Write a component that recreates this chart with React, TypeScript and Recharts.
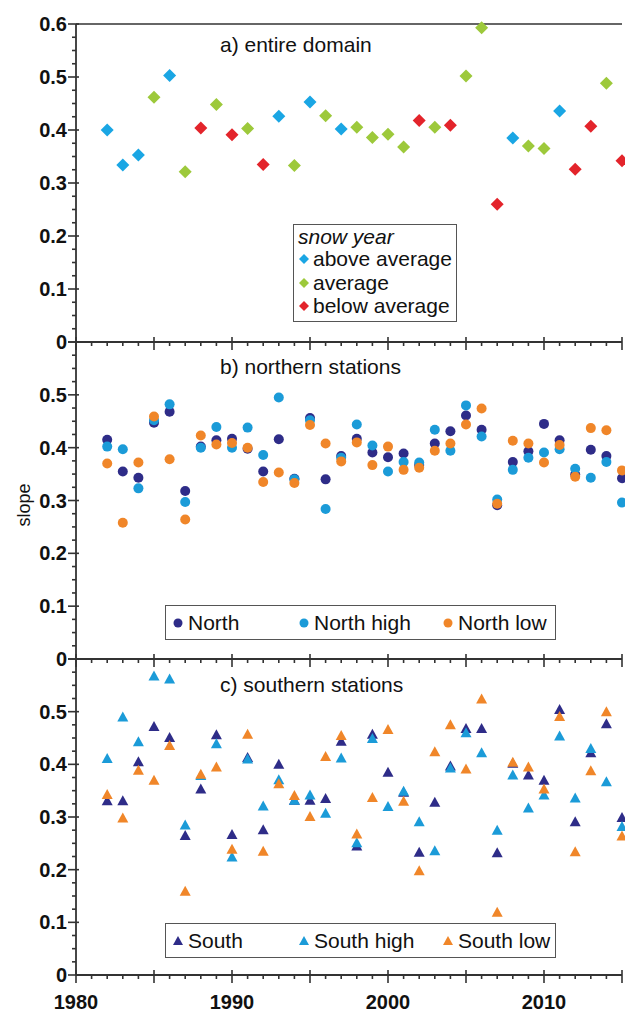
import React from 'react';
import { ScatterChart, Scatter, XAxis, YAxis, ReferenceLine } from 'recharts';

// years 1982-2015
const years = [
  1982, 1983, 1984, 1985, 1986, 1987, 1988, 1989, 1990, 1991, 1992, 1993, 1994, 1995, 1996, 1997, 1998,
  1999, 2000, 2001, 2002, 2003, 2004, 2005, 2006, 2007, 2008, 2009, 2010, 2011, 2012, 2013, 2014, 2015,
];

// a) entire domain, one value per year + snow-year class
const snowYear = [
  'above', 'above', 'above', 'average', 'above', 'average', 'below', 'average', 'below', 'average', 'below',
  'above', 'average', 'above', 'average', 'above', 'average', 'average', 'average', 'average', 'below',
  'average', 'below', 'average', 'average', 'below', 'above', 'average', 'average', 'above', 'below',
  'below', 'average', 'below',
];
const entireDomain = [
  0.4, 0.334, 0.353, 0.462, 0.503, 0.321, 0.404, 0.448, 0.391, 0.403, 0.335, 0.426, 0.333, 0.453, 0.427,
  0.402, 0.405, 0.386, 0.392, 0.368, 0.418, 0.405, 0.409, 0.502, 0.593, 0.26, 0.385, 0.37, 0.365, 0.436,
  0.326, 0.407, 0.488, 0.342,
];

// b) northern stations
const north = [
  0.415, 0.355, 0.343, 0.447, 0.468, 0.318, 0.402, 0.414, 0.417, 0.398, 0.355, 0.416, 0.341, 0.456, 0.34,
  0.384, 0.417, 0.391, 0.382, 0.389, 0.367, 0.408, 0.431, 0.461, 0.434, 0.291, 0.373, 0.393, 0.445, 0.414,
  0.349, 0.396, 0.384, 0.342,
];
const northHigh = [
  0.402, 0.397, 0.323, 0.452, 0.482, 0.297, 0.4, 0.439, 0.4, 0.438, 0.386, 0.495, 0.34, 0.452, 0.284,
  0.381, 0.444, 0.404, 0.355, 0.373, 0.372, 0.434, 0.394, 0.48, 0.421, 0.302, 0.358, 0.381, 0.391, 0.397,
  0.36, 0.343, 0.373, 0.296,
];
const northLow = [
  0.37, 0.258, 0.372, 0.459, 0.378, 0.264, 0.423, 0.406, 0.409, 0.4, 0.335, 0.353, 0.333, 0.443, 0.408,
  0.374, 0.41, 0.367, 0.402, 0.358, 0.362, 0.394, 0.408, 0.444, 0.474, 0.294, 0.413, 0.408, 0.372, 0.405,
  0.345, 0.437, 0.433, 0.357,
];

// c) southern stations
const south = [
  0.33, 0.33, 0.404, 0.471, 0.45, 0.264, 0.352, 0.455, 0.266, 0.412, 0.275, 0.399, 0.331, 0.331, 0.334,
  0.443, 0.244, 0.456, 0.384, 0.346, 0.232, 0.327, 0.396, 0.467, 0.467, 0.231, 0.401, 0.379, 0.369, 0.503,
  0.29, 0.421, 0.476, 0.298,
];
const southHigh = [
  0.41, 0.489, 0.442, 0.567, 0.561, 0.284, 0.378, 0.438, 0.223, 0.409, 0.32, 0.37, 0.331, 0.341, 0.306,
  0.411, 0.25, 0.448, 0.319, 0.348, 0.29, 0.235, 0.392, 0.459, 0.421, 0.274, 0.379, 0.316, 0.341, 0.453,
  0.335, 0.429, 0.366, 0.281,
];
const southLow = [
  0.342, 0.297, 0.388, 0.369, 0.435, 0.158, 0.38, 0.394, 0.238, 0.456, 0.234, 0.362, 0.34, 0.3, 0.414,
  0.454, 0.267, 0.336, 0.465, 0.329, 0.197, 0.423, 0.474, 0.39, 0.523, 0.118, 0.403, 0.394, 0.352, 0.49,
  0.233, 0.387, 0.499, 0.263,
];

const yearTicks = Array.from({ length: 36 }, (_, i) => 1980 + i);
const slopeTicks = Array.from({ length: 25 }, (_, i) => i * 0.025);

const FONT = '"Liberation Sans", Arial, Helvetica, sans-serif';
const AXIS = '#333';
const C_ABOVE = '#1aa6e4';
const C_AVG = '#9dc93b';
const C_BELOW = '#e3242b';
const C_NAVY = '#2e2c88';
const C_LIGHT = '#1b9bd8';
const C_ORANGE = '#f08629';

const toPoints = (vals: number[]) => years.map((year, i) => ({ year, slope: vals[i] }));
const domainPts = years.map((year, i) => ({ year, slope: entireDomain[i], snow: snowYear[i] }));

const diamond = (color: string, r = 6.5) => (p: any) => (
  <polygon
    points={`${p.cx},${p.cy - r} ${p.cx + r},${p.cy} ${p.cx},${p.cy + r} ${p.cx - r},${p.cy}`}
    fill={color}
  />
);
const dot = (color: string) => (p: any) => <circle cx={p.cx} cy={p.cy} r={5} fill={color} />;
const tri = (color: string) => (p: any) => (
  <polygon points={`${p.cx},${p.cy - 6} ${p.cx + 5.5},${p.cy + 4} ${p.cx - 5.5},${p.cy + 4}`} fill={color} />
);

function XTick({ x, y, payload, labels }: any) {
  const yr = payload.value;
  const major = yr % 5 === 0;
  return (
    <g>
      <line x1={x} x2={x} y1={major ? y - 5 : y} y2={major ? y + 8 : y + 4} stroke={AXIS} strokeWidth={1.6} />
      {labels && yr % 10 === 0 && (
        <text x={x} y={y + 34} textAnchor="middle" fontFamily={FONT} fontWeight="bold" fontSize={20} fill="#111">
          {yr}
        </text>
      )}
    </g>
  );
}

function YTick({ x, y, payload, topLabel }: any) {
  const k = Math.round(payload.value * 1000);
  const major = k % 100 === 0;
  const show = major && (topLabel || k < 600);
  return (
    <g>
      <line x1={major ? x - 8 : x - 4} x2={major ? x + 3 : x} y1={y} y2={y} stroke={AXIS} strokeWidth={1.6} />
      {show && (
        <text x={x - 9} y={y + 7} textAnchor="end" fontFamily={FONT} fontWeight="bold" fontSize={20} fill="#111">
          {k === 0 ? '0' : (k / 1000).toFixed(1)}
        </text>
      )}
    </g>
  );
}

function Panel({ top, marginTop, plotHeight, axisHeight, yearLabels, topLabel, border, children }: any) {
  return (
    <div style={{ position: 'absolute', left: 0, top }}>
      <ScatterChart
        width={625}
        height={marginTop + plotHeight + axisHeight}
        margin={{ top: marginTop, right: 3, bottom: 0, left: 0 }}
      >
        <XAxis
          type="number"
          dataKey="year"
          domain={[1980, 2015]}
          ticks={yearTicks}
          interval={0}
          height={axisHeight}
          tickSize={0}
          tickMargin={0}
          tickLine={false}
          axisLine={{ stroke: AXIS, strokeWidth: 1.8 }}
          tick={(p: any) => <XTick {...p} labels={yearLabels} />}
        />
        <YAxis
          type="number"
          dataKey="slope"
          domain={[0, 0.6]}
          ticks={slopeTicks}
          interval={0}
          width={76}
          tickSize={0}
          tickMargin={0}
          tickLine={false}
          axisLine={{ stroke: AXIS, strokeWidth: 1.8 }}
          tick={(p: any) => <YTick {...p} topLabel={topLabel} />}
        />
        {border && <ReferenceLine y={0.6} stroke="#666" strokeWidth={2} />}
        {children}
      </ScatterChart>
    </div>
  );
}

const label = (left: number, cy: number, text: string, extra: any = {}) => (
  <div
    style={{
      position: 'absolute',
      left,
      top: cy - 12,
      height: 24,
      lineHeight: '24px',
      fontSize: 21,
      whiteSpace: 'nowrap',
      color: '#111',
      ...extra,
    }}
  >
    {text}
  </div>
);

const marker = (left: number, cy: number, kind: string, color: string) => (
  <svg style={{ position: 'absolute', left: left - 6, top: cy - 6 }} width={12} height={12}>
    {kind === 'diamond' && <polygon points="6,1 11,6 6,11 1,6" fill={color} />}
    {kind === 'circle' && <circle cx={6} cy={6} r={4.5} fill={color} />}
    {kind === 'tri' && <polygon points="6,1 11,10 1,10" fill={color} />}
  </svg>
);

const boxStyle = (left: number, top: number, width: number, height: number): any => ({
  position: 'absolute',
  left,
  top,
  width,
  height,
  border: '1.5px solid #555',
  background: '#fff',
  boxSizing: 'border-box',
});

export default function App() {
  return (
    <div
      style={{
        position: 'absolute',
        left: 0,
        top: 0,
        width: 625,
        height: 1012,
        overflow: 'hidden',
        background: '#fff',
        fontFamily: FONT,
      }}
    >
      <Panel top={0} marginTop={24} plotHeight={318} axisHeight={40} topLabel border>
        <Scatter data={domainPts.filter((d) => d.snow === 'above')} shape={diamond(C_ABOVE)} isAnimationActive={false} />
        <Scatter data={domainPts.filter((d) => d.snow === 'average')} shape={diamond(C_AVG)} isAnimationActive={false} />
        <Scatter data={domainPts.filter((d) => d.snow === 'below')} shape={diamond(C_BELOW)} isAnimationActive={false} />
      </Panel>
      <Panel top={332} marginTop={10} plotHeight={317} axisHeight={40}>
        <Scatter data={toPoints(north)} shape={dot(C_NAVY)} isAnimationActive={false} />
        <Scatter data={toPoints(northHigh)} shape={dot(C_LIGHT)} isAnimationActive={false} />
        <Scatter data={toPoints(northLow)} shape={dot(C_ORANGE)} isAnimationActive={false} />
      </Panel>
      <Panel top={649} marginTop={10} plotHeight={316} axisHeight={37} yearLabels>
        <Scatter data={toPoints(south)} shape={tri(C_NAVY)} isAnimationActive={false} />
        <Scatter data={toPoints(southHigh)} shape={tri(C_LIGHT)} isAnimationActive={false} />
        <Scatter data={toPoints(southLow)} shape={tri(C_ORANGE)} isAnimationActive={false} />
      </Panel>

      {label(220, 45, 'a) entire domain')}
      {label(220, 367, 'b) northern stations')}
      {label(220, 685, 'c) southern stations')}

      <div
        style={{
          position: 'absolute',
          left: 24 - 40,
          top: 505 - 12,
          width: 80,
          height: 24,
          lineHeight: '24px',
          fontSize: 18,
          textAlign: 'center',
          transform: 'rotate(-90deg)',
          color: '#111',
        }}
      >
        slope
      </div>

      <div style={boxStyle(293, 224, 164, 98)}>
        {label(4, 12, 'snow year', { fontStyle: 'italic' })}
        {marker(10, 34, 'diamond', C_ABOVE)}
        {label(19, 34, 'above average')}
        {marker(10, 58, 'diamond', C_AVG)}
        {label(19, 58, 'average')}
        {marker(10, 81, 'diamond', C_BELOW)}
        {label(19, 81, 'below average')}
      </div>

      <div style={boxStyle(165, 605, 391, 35)}>
        {marker(12, 17, 'circle', C_NAVY)}
        {label(22, 17, 'North')}
        {marker(138, 17, 'circle', C_LIGHT)}
        {label(148, 17, 'North high')}
        {marker(282, 17, 'circle', C_ORANGE)}
        {label(292, 17, 'North low')}
      </div>

      <div style={boxStyle(165, 923, 391, 35)}>
        {marker(12, 17, 'tri', C_NAVY)}
        {label(22, 17, 'South')}
        {marker(138, 17, 'tri', C_LIGHT)}
        {label(148, 17, 'South high')}
        {marker(282, 17, 'tri', C_ORANGE)}
        {label(292, 17, 'South low')}
      </div>
    </div>
  );
}
